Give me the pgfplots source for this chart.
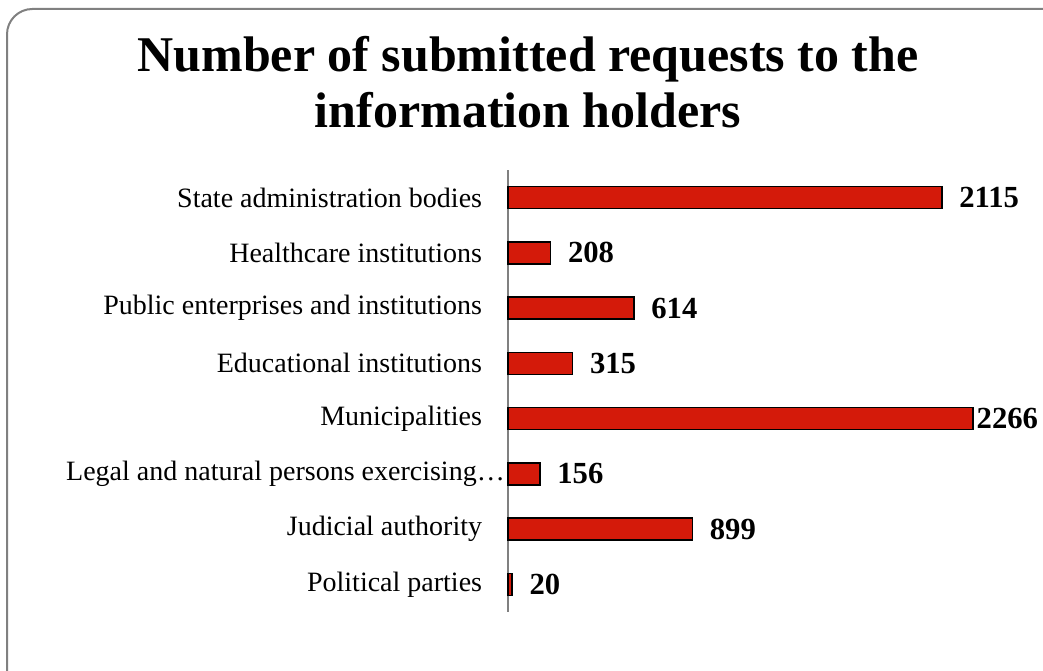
\documentclass[border=0pt]{standalone}
\usepackage{pgfplots}
\pgfplotsset{compat=1.18}
\usepackage{fontspec}
\setmainfont{Liberation Serif}
\definecolor{barred}{RGB}{212,26,10}
\definecolor{framegray}{RGB}{128,128,128}
\begin{document}
\begin{tikzpicture}[x=0.75pt,y=0.75pt]
\path[use as bounding box] (0,0) rectangle (1043,671);
\begin{scope}
\clip (0,0) rectangle (1043,671);
\draw[framegray, line width=1.5pt, rounded corners=19pt] (7,662) rectangle (1080,-30);
\end{scope}
\node[font=\fontsize{37.5}{45}\selectfont\bfseries, anchor=base, inner sep=0pt] at (528,599) {Number of submitted requests to the};
\node[font=\fontsize{37.5}{45}\selectfont\bfseries, anchor=base, inner sep=0pt] at (528,543) {information holders};
\begin{axis}[
  at={(381pt,44.25pt)}, anchor=south west, scale only axis,
  width=384.75pt, height=331.5pt,
  xmin=0, xmax=2500, ymin=-0.5, ymax=7.5,
  xbar, bar width=16.5pt, bar shift=0pt,
  axis x line=none, axis y line*=left,
  y axis line style={framegray, line width=1.1pt},
  ytick={0,...,7},
  yticklabels={Political parties, Judicial authority, {Legal and natural persons exercising…\hspace*{-17pt}}, Municipalities, Educational institutions, Public enterprises and institutions, Healthcare institutions, State administration bodies},
  ytick style={draw=none},
  yticklabel style={font=\fontsize{21}{25}\selectfont, anchor=east, inner sep=0pt, xshift=-15pt},
  nodes near coords,
  nodes near coords style={font=\fontsize{23}{27}\selectfont\bfseries, anchor=west, inner sep=0pt, xshift=12.5pt},
  point meta=x,
  /pgf/number format/1000 sep={},
  /pgf/number format/assume math mode=true,
  clip=false
]
\addplot[fill=barred, draw=black, line width=1.1pt] coordinates {(20,0) (899,1) (156,2) (315,4) (614,5) (208,6) (2115,7)};
\addplot[fill=barred, draw=black, line width=1.1pt, nodes near coords style={xshift=-10.25pt}] coordinates {(2266,3)};
\end{axis}
\end{tikzpicture}
\end{document}
